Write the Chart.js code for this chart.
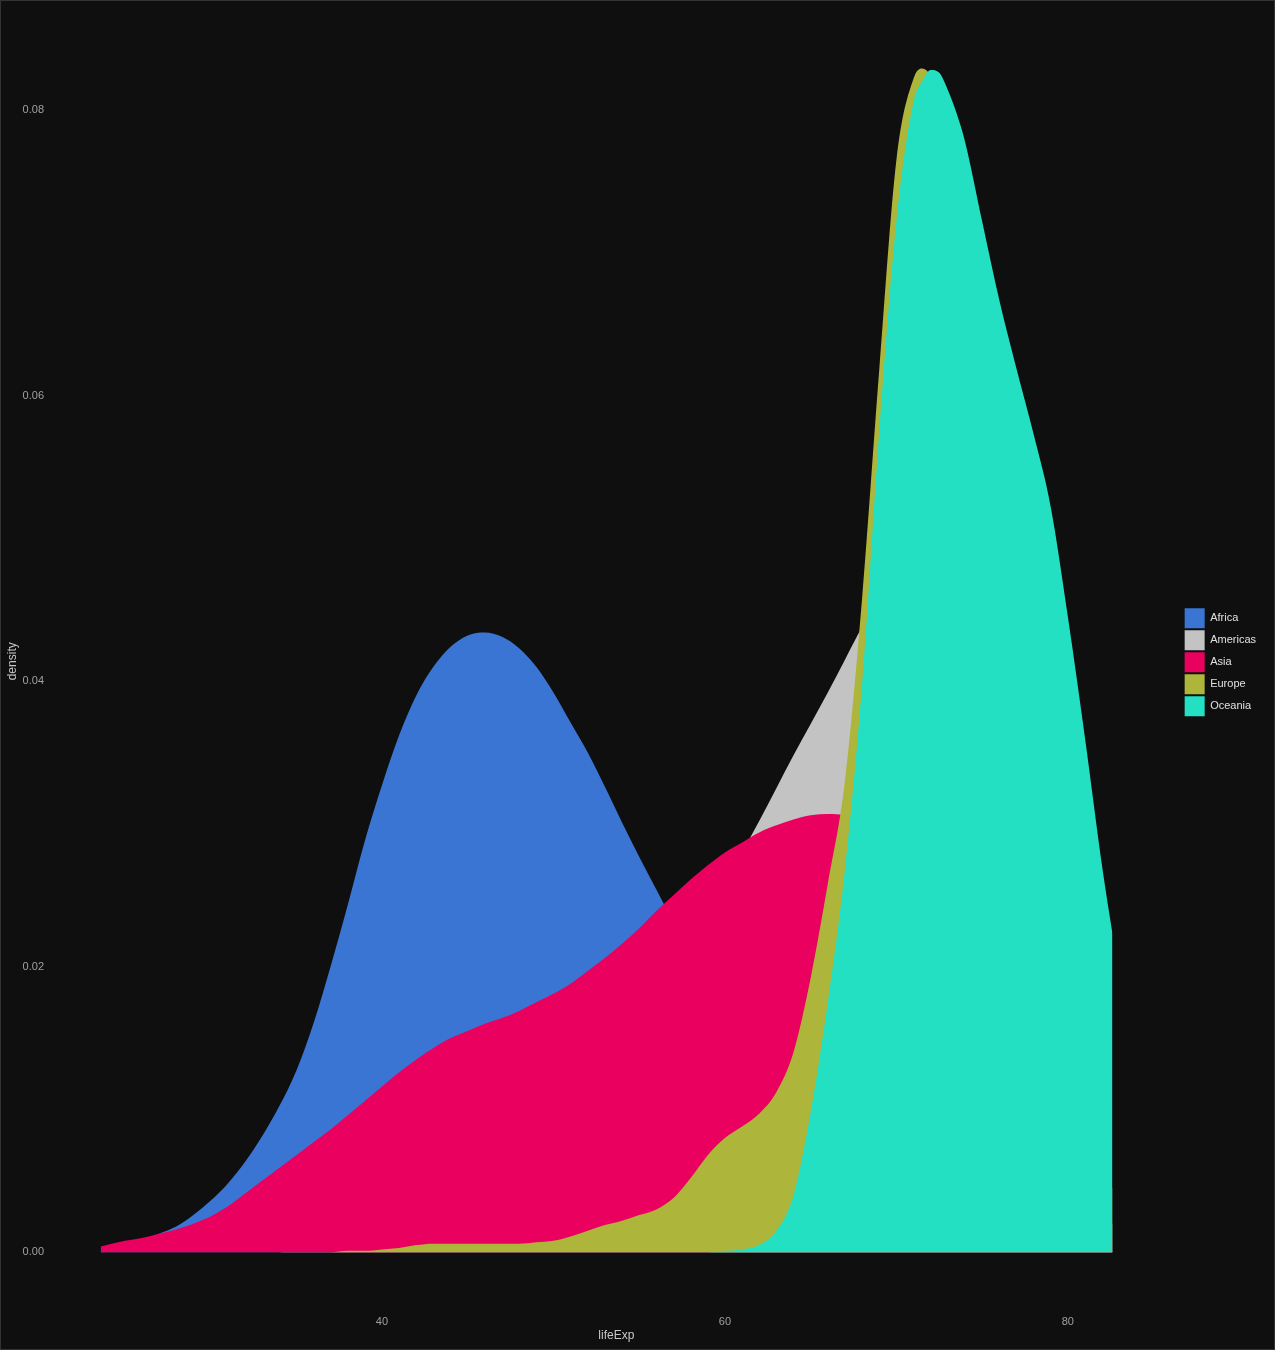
<!DOCTYPE html>
<html>
<head>
<meta charset="utf-8">
<script src="https://cdn.jsdelivr.net/npm/chart.js@4.4.0/dist/chart.umd.min.js"></script>
<style>
  html, body { margin: 0; padding: 0; background: #0f0f0f; }
  #wrap { width: 1275px; height: 1350px; }
</style>
</head>
<body>
<div id="wrap"><canvas id="densityChart" width="1275" height="1350"></canvas></div>
<script>
// x grid (lifeExp) and density per continent
const lifeExp = [23.6, 25, 26, 27, 28, 29, 30, 31, 32, 33, 34, 35, 36, 37, 38, 39, 40, 41, 42, 43,
  44, 45, 46, 47, 48, 49, 50, 51, 52, 53, 54, 55, 56, 57, 58, 59, 60, 61, 62, 63,
  64, 65, 66, 67, 68, 69, 70, 71, 71.5, 72, 72.5, 73, 73.5, 74, 75, 76, 77, 78, 79, 80,
  81, 82, 82.6];

const africa = [0.0003, 0.0006, 0.0009, 0.0013, 0.0018, 0.0026, 0.0036, 0.0048, 0.0063, 0.0081,
  0.0102, 0.0127, 0.0160, 0.0200, 0.0243, 0.0288, 0.0327, 0.0362, 0.0390, 0.0410,
  0.0424, 0.0432, 0.0434, 0.0431, 0.0423, 0.0410, 0.0392, 0.0371, 0.0350, 0.0326,
  0.0301, 0.0277, 0.0254, 0.0231, 0.0208, 0.0186, 0.0164, 0.0144, 0.0125, 0.0108,
  0.0092, 0.0078, 0.0065, 0.0054, 0.0045, 0.0037, 0.0030, 0.0024, 0.0021, 0.0019,
  0.0017, 0.0015, 0.0013, 0.0012, 0.0009, 0.0007, 0.0005, 0.0004, 0.0003, 0.0002,
  0.0001, 0.0001, 0.0001];

const americas = [0, 0, 0, 0, 0, 0, 0, 0, 0, 0,
  0, 0.0001, 0.0001, 0.0002, 0.0003, 0.0005, 0.0008, 0.0012, 0.0018, 0.0025,
  0.0032, 0.0041, 0.0050, 0.0060, 0.0070, 0.0081, 0.0092, 0.0105, 0.0118, 0.0133,
  0.0148, 0.0165, 0.0182, 0.0200, 0.0218, 0.0238, 0.0258, 0.0280, 0.0302, 0.0325,
  0.0348, 0.0370, 0.0392, 0.0415, 0.0438, 0.0458, 0.0474, 0.0484, 0.0486, 0.0486,
  0.0481, 0.0474, 0.0461, 0.0445, 0.0398, 0.0335, 0.0262, 0.0190, 0.0128, 0.0080,
  0.0048, 0.0028, 0.0020];

const asia = [0.0004, 0.0008, 0.0010, 0.0013, 0.0016, 0.0020, 0.0025, 0.0032, 0.0041, 0.0050,
  0.0059, 0.0068, 0.0077, 0.0086, 0.0096, 0.0106, 0.0116, 0.0126, 0.0135, 0.0143,
  0.0150, 0.0155, 0.0160, 0.0164, 0.0169, 0.0175, 0.0181, 0.0188, 0.0197, 0.0206,
  0.0216, 0.0227, 0.0239, 0.0250, 0.0261, 0.0271, 0.0280, 0.0287, 0.0294, 0.0299,
  0.0303, 0.0306, 0.0307, 0.0306, 0.0300, 0.0288, 0.0270, 0.0248, 0.0235, 0.0222,
  0.0208, 0.0194, 0.0180, 0.0165, 0.0136, 0.0108, 0.0083, 0.0061, 0.0043, 0.0029,
  0.0019, 0.0012, 0.0009];

const europe = [0, 0, 0, 0, 0, 0, 0, 0, 0, 0,
  0, 0, 0, 0, 0.0001, 0.0001, 0.0002, 0.0003, 0.0005, 0.0006,
  0.0006, 0.0006, 0.0006, 0.0006, 0.0006, 0.0007, 0.0008, 0.0011, 0.0015, 0.0019,
  0.0022, 0.0026, 0.0030, 0.0038, 0.0052, 0.0068, 0.0080, 0.0088, 0.0097, 0.0112,
  0.0140, 0.0192, 0.0258, 0.0330, 0.0458, 0.0618, 0.0765, 0.0822, 0.0829, 0.0824,
  0.0808, 0.0784, 0.0750, 0.0710, 0.0610, 0.0495, 0.0380, 0.0280, 0.0195, 0.0130,
  0.0085, 0.0055, 0.0045];

const oceania = [0, 0, 0, 0, 0, 0, 0, 0, 0, 0,
  0, 0, 0, 0, 0, 0, 0, 0, 0, 0,
  0, 0, 0, 0, 0, 0, 0, 0, 0, 0,
  0, 0, 0, 0, 0, 0, 0.0001, 0.0002, 0.0005, 0.0015,
  0.0040, 0.0098, 0.0175, 0.0268, 0.0398, 0.0575, 0.0722, 0.0806, 0.0820, 0.0828,
  0.0826, 0.0814, 0.0798, 0.0778, 0.0722, 0.0667, 0.0619, 0.0573, 0.0522, 0.0445,
  0.0360, 0.0270, 0.0223];

const continents = ['Africa', 'Americas', 'Asia', 'Europe', 'Oceania'];
const densities = [africa, americas, asia, europe, oceania];
const xTicks = [40, 60, 80];
const yTicks = [0, 0.02, 0.04, 0.06, 0.08];

const colors = ['#3a75d4', '#c3c3c3', '#ea005e', '#adb53a', '#24e0c3'];
const fontFamily = '"Liberation Sans", Arial, sans-serif';

// dark page background + thin frame
const darkBg = {
  id: 'darkBg',
  beforeDraw(chart) {
    const c = chart.ctx;
    c.save();
    c.fillStyle = '#0f0f0f';
    c.fillRect(0, 0, chart.width, chart.height);
    c.strokeStyle = '#333333';
    c.lineWidth = 1;
    c.strokeRect(0.5, 0.5, chart.width - 1, chart.height - 1);
    c.restore();
  }
};

const datasets = continents.map((name, i) => ({
  label: name,
  data: lifeExp.map((x, j) => ({ x: x, y: densities[i][j] })),
  backgroundColor: colors[i],
  borderColor: 'rgba(0,0,0,0)',
  borderWidth: 0,
  pointRadius: 0,
  fill: 'origin',
  cubicInterpolationMode: 'monotone',
  order: continents.length - i   // later continents drawn on top
}));

const ctx = document.getElementById('densityChart').getContext('2d');
const densityChart = new Chart(ctx, {
  type: 'line',
  data: { datasets: datasets },
  plugins: [darkBg],
  options: {
    responsive: false,
    animation: false,
    layout: { padding: { top: 7, right: 9, bottom: 0, left: 0 } },
    plugins: {
      tooltip: { enabled: false },
      legend: {
        position: 'right',
        align: 'start',
        // empty title only pushes the keys down to the panel middle
        title: { display: true, text: '', font: { size: 1 }, padding: { top: 598, bottom: 0 } },
        labels: {
          boxWidth: 20,
          boxHeight: 20,
          padding: 2,
          color: '#e0e0e0',
          font: { family: fontFamily, size: 11 },
          sort: (a, b) => a.datasetIndex - b.datasetIndex
        }
      }
    },
    scales: {
      x: {
        type: 'linear',
        bounds: 'data',
        min: 20.641,
        max: 86.694,
        grid: { display: false, drawTicks: false },
        border: { display: false },
        ticks: { color: '#a0a0a0', font: { family: fontFamily, size: 11 }, padding: 5 },
        afterBuildTicks: s => { s.ticks = xTicks.map(v => ({ value: v })); },
        afterFit: s => { s.height = 40; },
        title: {
          display: true, text: 'lifeExp', color: '#c8c8c8',
          font: { family: fontFamily, size: 12 },
          padding: { top: 0, bottom: 7 }
        }
      },
      y: {
        bounds: 'data',
        min: -0.004045,
        max: 0.08682,
        grid: { display: false, drawTicks: false },
        border: { display: false },
        ticks: {
          color: '#a0a0a0', font: { family: fontFamily, size: 11 }, padding: 6,
          callback: v => v.toFixed(2)
        },
        afterBuildTicks: s => { s.ticks = yTicks.map(v => ({ value: v })); },
        afterFit: s => { s.width = 50; },
        title: {
          display: true, text: 'density', color: '#c8c8c8',
          font: { family: fontFamily, size: 12 },
          padding: { top: 5, bottom: 0 }
        }
      }
    }
  }
});
</script>
</body>
</html>
